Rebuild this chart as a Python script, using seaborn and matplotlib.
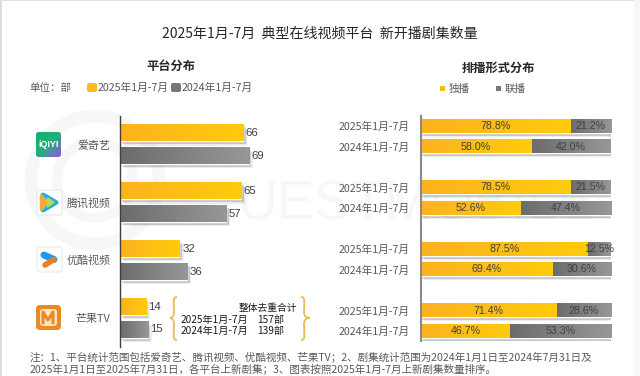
import matplotlib
matplotlib.use("Agg")
import matplotlib.pyplot as plt
import numpy as np
import pandas as pd
import seaborn as sns
from matplotlib.colors import LinearSegmentedColormap
from matplotlib.patches import FancyBboxPatch, PathPatch, Polygon, Rectangle
from matplotlib.path import Path
from matplotlib import patheffects as pe

# data
platforms = ["爱奇艺", "腾讯视频", "优酷视频", "芒果TV"]
periods = ["2025年1月-7月", "2024年1月-7月"]
counts_2025 = [66, 65, 32, 14]
counts_2024 = [69, 57, 36, 15]
exclusive_2025 = [78.8, 78.5, 87.5, 71.4]
exclusive_2024 = [58.0, 52.6, 69.4, 46.7]
joint_2025 = [21.2, 21.5, 12.5, 28.6]
joint_2024 = [42.0, 47.4, 30.6, 53.3]

FONT = ["Noto Sans CJK SC", "DejaVu Sans"]
NUM_FONT = "Liberation Sans"
YELLOW = ("#fdb220", "#ffcb0c")
GRAY = ("#6c6c6c", "#979797")

sns.set_theme(style="white")
plt.rcParams["font.family"] = FONT

W, H = 640, 376
fig = plt.figure(figsize=(W / 100, H / 100), dpi=100, facecolor="white")


def px_axes(x0, y0, x1, y1):
    a = fig.add_axes([x0 / W, 1 - y1 / H, (x1 - x0) / W, (y1 - y0) / H])
    a.patch.set_alpha(0)
    return a


# overlay in pixels, for logos, headings, watermark
bg = fig.add_axes([0, 0, 1, 1], zorder=0)
bg.set_xlim(0, W)
bg.set_ylim(H, 0)
bg.axis("off")


def gradient(ax, patch, colors):
    x0, y0, w, h = patch.get_bbox().bounds
    cmap = LinearSegmentedColormap.from_list("g", colors)
    grad = np.linspace(0, 1, 64).reshape(1, -1)
    xl, yl = ax.get_xlim(), ax.get_ylim()
    ax.imshow(grad, extent=(x0, x0 + w, y0 + h, y0), cmap=cmap, aspect="auto",
              clip_path=patch, zorder=patch.get_zorder() + 0.1, interpolation="bilinear")
    ax.set_xlim(xl)
    ax.set_ylim(yl)


def style_bars(ax, patches, colors, offset=(2, -2)):
    for p in patches:
        p.set_path_effects([
            pe.SimplePatchShadow(offset=(offset[0] + 1, offset[1] - 1), shadow_rgbFace="#000000", alpha=0.07),
            pe.SimplePatchShadow(offset=offset, shadow_rgbFace="#000000", alpha=0.16),
            pe.Normal()])
        gradient(ax, p, colors)


# watermark
for r, lw in [(64, 9), (38, 7)]:
    bg.add_patch(plt.Circle((95, 180), r, fill=False, ec="#f7f7f7", lw=lw))
bg.text(238, 206, "UESTMOBILE", fontsize=40, color="#f7f7f7", family=NUM_FONT,
        va="center", ha="left")

# left chart
df = pd.DataFrame({
    "platform": platforms * 2,
    "period": [periods[0]] * 4 + [periods[1]] * 4,
    "count": counts_2025 + counts_2024,
})
ax = px_axes(119.5, 115.5, 310, 347)
sns.barplot(data=df, x="count", y="platform", hue="period", hue_order=periods, order=platforms,
            palette=[YELLOW[1], GRAY[1]], saturation=1, width=0.79, gap=0.26, legend=False, ax=ax)
ax.set_xlim(0, 190.5 / 1.87)
ax.set_ylim(3.5, -0.5)
for cont, cols in zip(ax.containers, (YELLOW, GRAY)):
    style_bars(ax, list(cont), cols)
    ax.bar_label(cont, padding=2, fontsize=8.2, color="#404040", family=NUM_FONT)
sns.despine(ax=ax, bottom=True, right=True, top=True)
ax.spines["left"].set_color("#404040")
ax.spines["left"].set_linewidth(1)
ax.set_xlabel("")
ax.set_ylabel("")
ax.set_xticks([])
ax.tick_params(axis="y", length=0, pad=6.5, labelsize=7.9, labelcolor="#595959")

# right chart, stacked, one row per bar with spacer rows
rows = []
for i, p in enumerate(platforms):
    rows += [p + periods[0], p + periods[1]]
    if i < len(platforms) - 1:
        rows.append("gap%d" % i)
df2 = pd.DataFrame({
    "row": [p + periods[0] for p in platforms] + [p + periods[1] for p in platforms],
    "exclusive": exclusive_2025 + exclusive_2024,
    "joint": joint_2025 + joint_2024,
})
ax2 = px_axes(421, 115.75, 611, 341.25)
sns.barplot(data=df2, x="exclusive", y="row", order=rows, color=YELLOW[1], saturation=1, width=0.66, ax=ax2)
sns.barplot(data=df2, x="joint", y="row", order=rows, color=GRAY[1], saturation=1, width=0.66, ax=ax2)
ax2.set_xlim(0, 100)
ax2.set_ylim(len(rows) - 0.5, -0.5)
yellow_cont, gray_cont = ax2.containers[0], ax2.containers[1]
# stack the second series on the first
for yp, gp in zip(yellow_cont, gray_cont):
    gp.set_x(yp.get_width())
style_bars(ax2, list(gray_cont), GRAY, offset=(1, -2))
style_bars(ax2, list(yellow_cont), YELLOW, offset=(1, -2))
for cont in (yellow_cont, gray_cont):
    ax2.bar_label(cont, fmt="%.1f%%", label_type="center", fontsize=7.7, color="#404040", family=NUM_FONT, zorder=6)
tick_pos = [i for i, r in enumerate(rows) if not r.startswith("gap")]
ax2.set_yticks(tick_pos, periods * 4)
sns.despine(ax=ax2, bottom=True, right=True, top=True)
ax2.spines["left"].set_color("#8a8a8a")
ax2.spines["left"].set_linewidth(1.5)
ax2.set_xlabel("")
ax2.set_ylabel("")
ax2.set_xticks([])
ax2.tick_params(axis="y", length=0, pad=7.9, labelsize=7.7, labelcolor="#595959")
for t in ax2.texts:
    t.set_clip_on(False)

# headings
bg.text(320, 34, "2025年1月-7月  典型在线视频平台  新开播剧集数量", fontsize=10.05, color="#262626", ha="center", va="center")
bg.text(171, 66, "平台分布", fontsize=8.8, color="#262626", ha="center", va="center", fontweight="bold")
bg.text(498, 68, "排播形式分布", fontsize=8.8, color="#262626", ha="center", va="center", fontweight="bold")

# legends
bg.text(29, 87.5, "单位：部", fontsize=7.6, color="#595959", va="center")
bg.add_patch(FancyBboxPatch((87, 83), 10, 9, boxstyle="round,pad=0,rounding_size=2", fc="#fdbb1a", ec="none"))
bg.text(98, 87.5, periods[0], fontsize=7.7, color="#595959", va="center")
bg.add_patch(FancyBboxPatch((171, 83), 10, 9, boxstyle="round,pad=0,rounding_size=2", fc="#777777", ec="none"))
bg.text(182, 87.5, periods[1], fontsize=7.7, color="#595959", va="center")
bg.add_patch(Rectangle((440, 86), 5, 5, fc="#fbbb16", ec="none"))
bg.text(449, 88.5, "独播", fontsize=7.6, color="#595959", va="center")
bg.add_patch(Rectangle((496, 86), 5, 5, fc="#777777", ec="none"))
bg.text(505, 88.5, "联播", fontsize=7.6, color="#595959", va="center")

# logos
iq = FancyBboxPatch((36, 132), 25, 25, boxstyle="round,pad=0,rounding_size=3", fc="#22b573", ec="none")
bg.add_patch(iq)
grad = (np.linspace(0, 1, 64)[None, :] + np.linspace(0, 1, 64)[:, None]) / 2
bg.imshow(grad, extent=(36, 61, 157, 132), aspect="auto", clip_path=iq, zorder=2,
          cmap=LinearSegmentedColormap.from_list("iq", ["#0fb36b", "#22b07c", "#a04fe0"]))
bg.set_xlim(0, W)
bg.set_ylim(H, 0)
bg.text(48.5, 144.5, "iQIYI", color="white", fontsize=6.4, fontweight="bold", family=NUM_FONT,
        ha="center", va="center", zorder=3)

for y0 in (190, 247):
    bg.add_patch(FancyBboxPatch((37, y0), 25, 25, boxstyle="round,pad=0,rounding_size=3",
                                fc="white", ec="#e6e6e6", lw=0.7, zorder=2))
bg.add_patch(Polygon([(43, 195), (43, 210), (56, 202.5)], closed=True, fc="#2aa9df", ec="#2aa9df", lw=3.5, joinstyle="round", zorder=3))
bg.add_patch(Polygon([(41.5, 196), (41.5, 209), (47, 202.5)], closed=True, fc="#f2a93b", ec="#f2a93b", lw=2.5, joinstyle="round", zorder=4))
bg.add_patch(Polygon([(47.5, 198), (47.5, 207), (54, 202.5)], closed=True, fc="#b5dc55", ec="#b5dc55", lw=1, joinstyle="round", zorder=4))
bg.plot([44, 54], [255, 259.5], color="#1d9bea", lw=5, solid_capstyle="round", zorder=3)
bg.plot([54, 45], [259.5, 265], color="#ee7d2a", lw=4, solid_capstyle="round", zorder=3)

bg.add_patch(FancyBboxPatch((36, 305), 25, 25, boxstyle="round,pad=0,rounding_size=4", fc="#ea8a25", ec="none", zorder=2))
bg.add_patch(FancyBboxPatch((40, 309), 17, 17, boxstyle="round,pad=0,rounding_size=3", fc="#fbe3c4", ec="none", zorder=3))
bg.plot([43, 43, 48, 53, 53], [323, 312, 320, 312, 323], color="#ea8a25", lw=2.2, zorder=4)

# bracket around deduplicated totals
BR = "#e9bb55"
brace_l = Path([(177, 297), (172, 297), (174, 303), (174, 312), (174, 316), (172, 318), (170, 318),
                (172, 318), (174, 320), (174, 324), (174, 334), (172, 340), (177, 340)],
               [Path.MOVETO] + [Path.CURVE4] * 12)
brace_r = Path([(301, 297), (306, 297), (304, 303), (304, 312), (304, 316), (306, 318), (310, 318),
                (306, 318), (304, 320), (304, 324), (304, 334), (306, 340), (301, 340)],
               [Path.MOVETO] + [Path.CURVE4] * 12)
for b in (brace_l, brace_r):
    bg.add_patch(PathPatch(b, fill=False, ec=BR, lw=1.3))
bg.text(297, 308.5, "整体去重合计", fontsize=7, color="#1a1a1a", ha="right", va="center", fontweight="medium")
bg.text(181, 320, periods[0], fontsize=7.3, color="#1a1a1a", va="center")
bg.text(257, 320, "157部", fontsize=7.3, color="#1a1a1a", va="center")
bg.text(181, 331, periods[1], fontsize=7.3, color="#1a1a1a", va="center")
bg.text(257, 331, "139部", fontsize=7.3, color="#1a1a1a", va="center")

# footnote
bg.text(30, 357, "注：1、平台统计范围包括爱奇艺、腾讯视频、优酷视频、芒果TV；2、剧集统计范围为2024年1月1日至2024年7月31日及",
        fontsize=7.6, color="#595959", va="center")
bg.text(30, 369, "2025年1月1日至2025年7月31日，各平台上新剧集；3、图表按照2025年1月-7月上新剧集数量排序。",
        fontsize=7.6, color="#595959", va="center")

# scan edge
bg.add_patch(Rectangle((0, 0), 1.5, H, fc="#dddddd", ec="none"))
bg.add_patch(Rectangle((0, 0), W, 1, fc="#e2e2e2", ec="none"))
bg.add_patch(Rectangle((634, 0), 6, H, fc="#f7f7f7", ec="none"))

fig.savefig("out.png", dpi=100)
